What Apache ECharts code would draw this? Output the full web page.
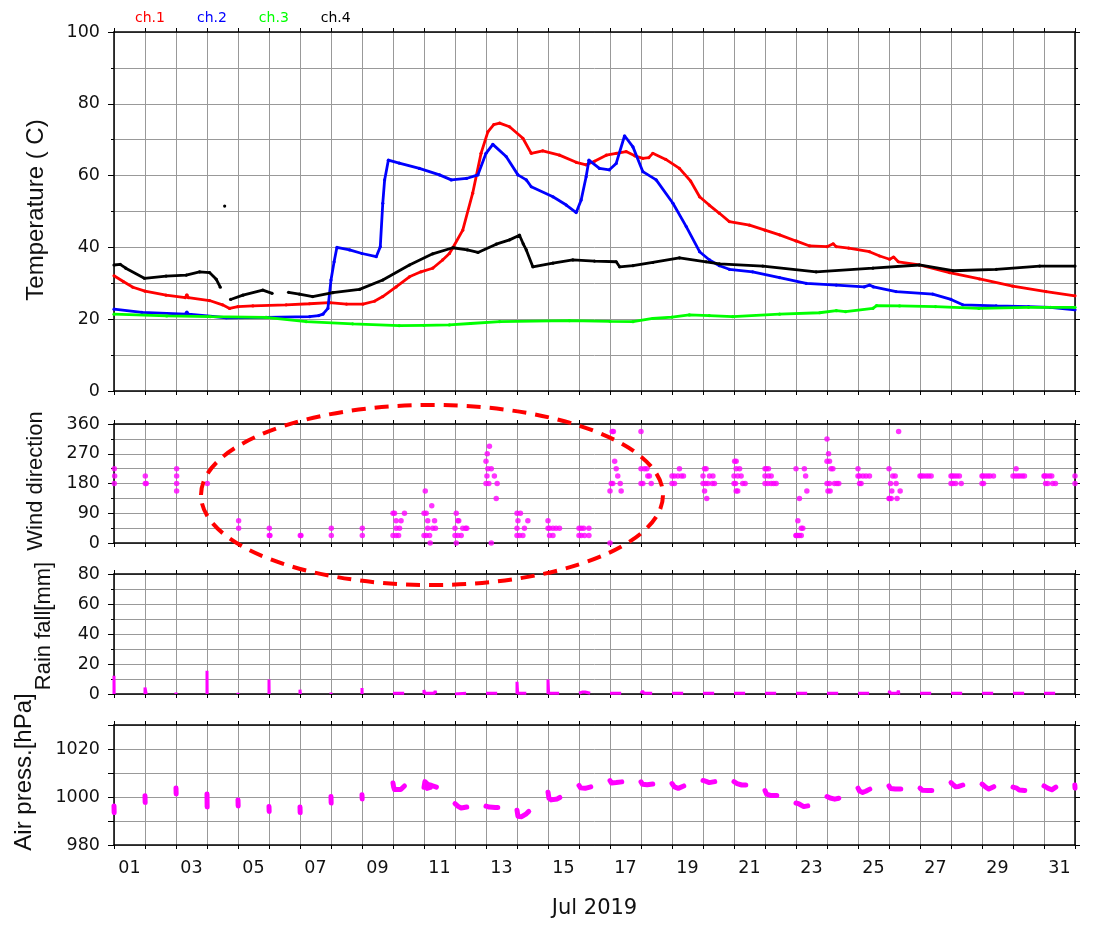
<!DOCTYPE html>
<html><head><meta charset="utf-8">
<script src="https://cdn.jsdelivr.net/npm/echarts@6/dist/echarts.min.js"></script>
<style>html,body{margin:0;padding:0;background:#fff}#c{width:1105px;height:927px}</style>
</head><body><div id="c"></div>
<script>
// ---------- data (x = day of July 2019, fractional) ----------
const seriesNames = ['ch.1', 'ch.2', 'ch.3', 'ch.4'];
const seriesColors = ['#ff0000', '#0000ff', '#00ff00', '#000000'];
const panelTitles = ['Temperature ( C)', 'Wind direction', 'Rain fall[mm]', 'Air press.[hPa]'];
const monthLabel = 'Jul 2019';

const ch1 = [[1.0,32.1],[1.3,30.5],[1.61,28.9],[2.0,27.8],[2.68,26.7],[3.3,26.0],[3.35,26.8],[3.4,26.0],[4.08,25.2],[4.5,24.0],[4.73,23.0],[5.0,23.5],[5.48,23.7],[6.55,24.0],[7.3,24.3],[7.95,24.6],[8.5,24.2],[9.03,24.2],[9.4,25.0],[9.67,26.3],[10.1,29.0],[10.53,31.8],[10.9,33.2],[11.28,34.2],[11.6,36.5],[11.82,38.3],[11.93,39.9],[12.25,44.8],[12.57,55.1],[12.84,66.2],[13.06,72.2],[13.25,74.2],[13.44,74.6],[13.76,73.6],[14.19,70.4],[14.46,66.2],[14.83,66.9],[15.37,65.7],[15.91,63.7],[16.23,63.0],[16.5,64.0],[16.88,65.7],[17.2,66.2],[17.52,66.7],[17.8,65.5],[18.06,64.8],[18.25,65.0],[18.38,66.2],[18.8,64.5],[19.24,62.0],[19.6,58.5],[19.89,54.1],[20.2,51.8],[20.53,49.5],[20.85,47.2],[21.5,46.2],[22.0,44.8],[22.47,43.5],[23.0,41.8],[23.44,40.4],[24.0,40.2],[24.2,41.0],[24.3,40.2],[24.7,39.8],[25.37,38.8],[25.7,37.6],[26.02,36.7],[26.15,37.3],[26.3,36.0],[26.98,35.1],[27.95,33.0],[28.92,31.2],[29.99,29.2],[31.07,27.7],[32.0,26.5]];

const ch2 = [[1.0,22.8],[1.9,21.9],[3.3,21.4],[3.35,22.0],[3.4,21.4],[4.62,20.4],[5.91,20.5],[7.31,20.7],[7.6,21.0],[7.74,21.4],[7.9,23.0],[8.0,30.9],[8.1,36.0],[8.19,40.0],[8.6,39.3],[9.0,38.3],[9.46,37.4],[9.59,40.2],[9.67,52.3],[9.73,58.8],[9.85,64.3],[10.2,63.5],[10.85,62.0],[11.5,60.2],[11.88,58.8],[12.37,59.2],[12.74,60.2],[13.0,66.2],[13.22,68.7],[13.65,65.3],[14.03,60.2],[14.3,58.8],[14.46,56.9],[15.16,54.1],[15.59,51.8],[15.91,49.7],[16.07,53.2],[16.23,59.7],[16.32,64.3],[16.66,62.0],[16.98,61.6],[17.2,63.4],[17.47,71.1],[17.74,68.0],[18.06,61.1],[18.49,58.8],[19.03,52.3],[19.46,45.8],[19.89,38.8],[20.21,36.5],[20.53,34.9],[20.85,33.9],[21.6,33.2],[22.47,31.6],[23.33,30.0],[24.3,29.5],[25.2,29.0],[25.37,29.5],[25.5,29.0],[26.23,27.7],[27.41,27.0],[28.0,25.5],[28.38,24.0],[29.46,23.7],[30.5,23.5],[31.2,23.3],[32.0,22.6]];

const ch3 = [[1.0,21.4],[2.7,20.9],[4.1,20.7],[5.9,20.5],[7.2,19.3],[8.7,18.7],[10.2,18.2],[11.0,18.3],[11.82,18.4],[12.5,18.8],[13.44,19.3],[15.69,19.6],[17.0,19.4],[17.74,19.3],[18.38,20.2],[19.0,20.6],[19.56,21.2],[20.2,21.0],[20.96,20.7],[22.47,21.4],[23.76,21.8],[24.3,22.4],[24.6,22.1],[25.48,23.0],[25.6,23.8],[26.34,23.7],[27.5,23.5],[28.9,23.0],[30.5,23.3],[32.0,23.3]];

const ch4 = [[1.0,35.1],[1.2,35.3],[1.38,34.2],[1.98,31.4],[2.68,32.0],[3.33,32.3],[3.76,33.2],[4.08,33.0],[4.3,31.1],[4.43,28.9],[4.5,null],[4.57,51.5],[4.65,null],[4.76,25.5],[5.16,26.7],[5.8,28.1],[6.1,27.2],[6.3,null],[6.63,27.5],[6.98,27.0],[7.41,26.3],[8.06,27.4],[8.92,28.3],[9.67,30.9],[10.53,35.1],[11.28,38.2],[11.93,39.9],[12.4,39.3],[12.74,38.6],[13.33,40.9],[13.76,42.1],[14.08,43.4],[14.2,41.0],[14.3,39.3],[14.51,34.6],[15.16,35.6],[15.8,36.5],[16.5,36.2],[17.2,36.0],[17.31,34.6],[17.74,34.9],[18.38,35.8],[19.24,37.1],[20.1,36.0],[20.53,35.4],[21.93,34.8],[23.65,33.2],[25.48,34.2],[26.98,35.1],[28.06,33.5],[29.46,33.9],[30.86,34.8],[32.0,34.8]];

const wind = [
[1.01,225],[1.02,202.5],[1.01,180],
[2.01,202.5],[2.01,180],[2.04,180],
[3.02,225],[3.02,202.5],[3.02,180],[3.02,157.5],
[4.01,180],
[5.02,67.5],[5.02,45],
[6.01,45],[6.01,22.5],[6.03,22.5],
[7.01,22.5],[7.03,22.5],
[8.01,45],[8.01,22.5],
[9.01,45],[9.01,22.5],
[10.0,90],[10.05,90],[10.37,90],[10.1,67.5],[10.26,67.5],[10.1,45],[10.21,45],[10.0,22.5],[10.1,22.5],[10.18,22.5],
[11.04,157.5],[11.0,90],[11.07,90],[11.25,112.5],[11.12,67.5],[11.34,67.5],[11.12,45],[11.28,45],[11.37,45],[11.0,22.5],[11.07,22.5],[11.18,22.5],[11.2,0],
[12.04,90],[12.09,67.5],[12.12,67.5],[12.0,45],[12.25,45],[12.34,45],[12.38,45],[12.0,22.5],[12.09,22.5],[12.2,22.5],[12.04,0],
[13.11,292.5],[13.04,270],[13.0,247.5],[13.06,225],[13.17,225],[13.03,202.5],[13.27,202.5],[13.0,180],[13.09,180],[13.36,180],[13.33,135],[13.17,0],
[14.0,90],[14.11,90],[14.03,67.5],[14.35,67.5],[14.0,45],[14.24,45],[14.0,22.5],[14.08,22.5],[14.19,22.5],
[15.0,67.5],[15.0,45],[15.05,45],[15.16,45],[15.26,45],[15.37,45],[15.05,22.5],[15.16,22.5],
[16.0,45],[16.07,45],[16.15,45],[16.32,45],[16.0,22.5],[16.07,22.5],[16.18,22.5],[16.32,22.5],
[17.07,337.5],[17.11,337.5],[17.15,247.5],[17.2,225],[17.25,202.5],[17.04,180],[17.09,180],[17.33,180],[17.0,157.5],[17.36,157.5],[17.0,0],
[18.0,337.5],[18.0,225],[18.11,225],[18.19,225],[18.22,202.5],[18.27,202.5],[18.0,180],[18.06,180],[18.33,180],
[19.24,225],[19.0,202.5],[19.08,202.5],[19.19,202.5],[19.3,202.5],[19.37,202.5],[19.0,180],[19.08,180],
[20.05,225],[20.1,225],[20.0,202.5],[20.21,202.5],[20.32,202.5],[20.0,180],[20.08,180],[20.16,180],[20.3,180],[20.37,180],[20.05,157.5],[20.12,135],
[21.02,247.5],[21.07,247.5],[21.07,225],[21.18,225],[21.0,202.5],[21.12,202.5],[21.23,202.5],[21.0,180],[21.05,180],[21.28,180],[21.36,180],[21.07,157.5],[21.12,157.5],
[22.0,225],[22.04,225],[22.11,225],[22.0,202.5],[22.11,202.5],[22.2,202.5],[22.0,180],[22.09,180],[22.2,180],[22.28,180],[22.36,180],
[23.0,225],[23.27,225],[23.31,202.5],[23.35,157.5],[23.11,135],[23.06,67.5],[23.17,45],[23.22,45],[23.0,22.5],[23.01,22.5],[23.06,22.5],[23.11,22.5],[23.17,22.5],
[24.0,315],[24.05,270],[24.0,247.5],[24.08,247.5],[24.13,225],[24.19,225],[24.0,180],[24.08,180],[24.24,180],[24.32,180],[24.38,180],[24.03,157.5],[24.1,157.5],
[25.0,225],[25.0,202.5],[25.05,202.5],[25.16,202.5],[25.26,202.5],[25.37,202.5],[25.05,180],[25.1,180],
[26.31,337.5],[26.0,225],[26.12,202.5],[26.2,202.5],[26.05,180],[26.23,180],[26.09,157.5],[26.36,157.5],[26.0,135],[26.02,135],[26.07,135],[26.26,135],
[27.0,202.5],[27.04,202.5],[27.11,202.5],[27.2,202.5],[27.28,202.5],[27.36,202.5],
[28.0,202.5],[28.04,202.5],[28.11,202.5],[28.19,202.5],[28.27,202.5],[28.0,180],[28.06,180],[28.15,180],[28.33,180],
[29.0,202.5],[29.03,202.5],[29.11,202.5],[29.19,202.5],[29.26,202.5],[29.37,202.5],[29.0,180],[29.05,180],
[30.1,225],[30.0,202.5],[30.07,202.5],[30.15,202.5],[30.22,202.5],[30.3,202.5],[30.37,202.5],
[31.0,202.5],[31.02,202.5],[31.09,202.5],[31.18,202.5],[31.25,202.5],[31.05,180],[31.12,180],[31.28,180],[31.37,180],
[32.0,202.5],[32.0,180]
];

const rain = [
[1.0,0],[1.0,12.2],[1.005,0],[1.01,null],
[2.0,0],[2.0,4.3],[2.03,3.8],[2.04,0],[2.05,null],
[3.0,0],[3.0,1.0],[3.005,0],[3.01,null],
[4.0,0],[4.0,15.5],[4.005,0],[4.01,null],
[5.0,0],[5.0,0.8],[5.005,0],[5.01,null],
[6.0,0],[6.0,9.7],[6.005,0],[6.01,null],
[7.0,0],[7.0,2.9],[7.01,0],[7.02,null],
[8.0,0],[8.0,1.0],[8.005,0],[8.01,null],
[9.0,0],[9.0,4.0],[9.005,0],[9.01,null],
[10.0,0.5],[10.36,0.5],[10.4,null],
[11.0,0],[11.0,2.7],[11.02,0.5],[11.34,0.5],[11.36,2.0],[11.38,0.5],[11.4,null],
[12.0,0],[12.0,1.1],[12.02,0.5],[12.36,0.5],[12.4,null],
[13.0,0.5],[13.2,0.5],[13.21,1.1],[13.22,0.5],[13.36,0.5],[13.4,null],
[14.0,0],[14.0,8.1],[14.02,0.5],[14.3,0.5],[14.4,null],
[15.0,0],[15.0,9.7],[15.02,0.5],[15.2,0.5],[15.21,1.3],[15.22,0.5],[15.36,0.5],[15.4,null],
[16.0,0.5],[16.1,1.3],[16.2,1.3],[16.36,0.5],[16.4,null],
[17.0,0.5],[17.36,0.5],[17.4,null],
[18.0,0.5],[18.05,2.0],[18.1,0.5],[18.36,0.5],[18.4,null],
[19.0,0.5],[19.36,0.5],[19.4,null],
[20.0,0.5],[20.36,0.5],[20.4,null],
[21.0,0.5],[21.36,0.5],[21.4,null],
[22.0,0.5],[22.36,0.5],[22.4,null],
[23.0,0.5],[23.36,0.5],[23.4,null],
[24.0,0.5],[24.36,0.5],[24.4,null],
[25.0,0.5],[25.36,0.5],[25.4,null],
[26.0,0.5],[26.02,2.0],[26.04,0.5],[26.28,0.5],[26.3,2.2],[26.32,0.5],[26.36,0.5],[26.4,null],
[27.0,0.5],[27.36,0.5],[27.4,null],
[28.0,0.5],[28.36,0.5],[28.4,null],
[29.0,0.5],[29.36,0.5],[29.4,null],
[30.0,0.5],[30.36,0.5],[30.4,null],
[31.0,0.5],[31.36,0.5],[31.4,null],
[32.0,0.5]
];

const press = [
[1.0,996.3],[1.005,993.5],[1.1,null],
[2.0,1000.5],[2.005,997.7],[2.1,null],
[3.0,1003.7],[3.005,1001.3],[3.1,null],
[4.0,1001.2],[4.005,995.8],[4.1,null],
[5.0,998.8],[5.005,996.3],[5.1,null],
[6.0,996.0],[6.005,994.0],[6.1,null],
[7.0,995.8],[7.005,993.5],[7.1,null],
[8.0,1000.2],[8.005,997.5],[8.1,null],
[9.0,1000.9],[9.005,999.2],[9.1,null],
[10.0,1005.8],[10.06,1005.2],[10.02,1004.2],[10.05,1003.1],[10.25,1003.1],[10.37,1004.6],[10.5,null],
[11.0,1004.0],[11.03,1006.4],[11.12,1005.3],[11.25,1004.8],[11.4,1004.1],[11.45,null],
[11.06,1004.8],[11.1,1003.6],[11.2,1004.0],[11.3,null],
[12.0,997.2],[12.1,996.1],[12.2,995.4],[12.38,995.8],[12.5,null],
[13.0,996.2],[13.1,995.8],[13.3,995.6],[13.38,995.6],[13.5,null],
[14.0,994.5],[14.03,992.0],[14.15,991.8],[14.3,993.0],[14.38,994.0],[14.5,null],
[15.0,1002.0],[15.03,999.5],[15.1,998.8],[15.3,999.2],[15.38,999.8],[15.5,null],
[16.0,1004.8],[16.05,1003.8],[16.2,1003.6],[16.38,1004.2],[16.5,null],
[17.0,1006.8],[17.05,1005.8],[17.2,1006.0],[17.38,1006.3],[17.5,null],
[18.0,1006.3],[18.05,1005.3],[18.2,1005.1],[18.38,1005.4],[18.5,null],
[19.0,1005.6],[19.08,1004.2],[19.2,1003.6],[19.38,1004.6],[19.5,null],
[20.0,1006.9],[20.1,1006.5],[20.2,1006.0],[20.38,1006.4],[20.5,null],
[21.0,1006.4],[21.1,1005.6],[21.25,1005.0],[21.38,1005.0],[21.5,null],
[22.0,1002.7],[22.05,1001.2],[22.2,1000.6],[22.38,1000.6],[22.5,null],
[23.0,997.5],[23.1,997.1],[23.25,996.0],[23.38,996.3],[23.5,null],
[24.0,1000.2],[24.1,999.6],[24.25,999.1],[24.38,999.5],[24.5,null],
[25.0,1003.7],[25.05,1002.5],[25.15,1001.9],[25.25,1002.4],[25.38,1003.3],[25.5,null],
[26.0,1004.6],[26.05,1003.5],[26.2,1003.3],[26.38,1003.3],[26.5,null],
[27.0,1003.7],[27.08,1002.8],[27.25,1002.7],[27.38,1002.7],[27.5,null],
[28.0,1006.0],[28.08,1005.0],[28.15,1004.3],[28.25,1004.4],[28.38,1005.0],[28.5,null],
[29.0,1005.4],[29.12,1004.1],[29.22,1003.3],[29.38,1004.3],[29.5,null],
[30.0,1004.1],[30.12,1003.7],[30.2,1002.9],[30.38,1002.7],[30.5,null],
[31.0,1004.6],[31.12,1003.7],[31.25,1003.0],[31.38,1004.1],[31.5,null],
[31.995,1005.0],[32.0,1003.7]
];

// ---------- layout ----------
const FONT = 'DejaVu Sans';
const TITLE_FONT = 'Liberation Sans';
const GRIDC = '#999999';
const MAG = '#ff00ff';
const L = 114, R = 30;
const panels = [
  {top: 32,  height: 359, min: 0,   max: 100,  interval: 20, minor: true},
  {top: 424, height: 119, min: 0,   max: 360,  interval: 90, minor: true},
  {top: 574, height: 120, min: 0,   max: 80,   interval: 20, minor: true},
  {top: 725, height: 120, min: 980, max: 1030, interval: 10, minor: false}
];
const titlePos = [[36, 210], [36, 481], [44, 626], [24, 772]];
const titleSize = [24, 22, 22, 24];

const grids = [], xAxes = [], yAxes = [];
const axisLine = {show: true, onZero: false, lineStyle: {color: '#000', width: 1.5}};
panels.forEach((p, i) => {
  grids.push({left: L, right: R, top: p.top, height: p.height, containLabel: false, outerBoundsMode: 'none', show: false});
  const last = i === panels.length - 1;
  xAxes.push({
    type: 'value', gridIndex: i, position: 'bottom', min: 1, max: 32, interval: 1,
    axisLine: axisLine, axisTick: {show: true, inside: false, length: 4, lineStyle: {color: '#000', width: 1}},
    splitLine: {show: true, lineStyle: {color: GRIDC, width: 1}},
    axisLabel: last ? {
      show: true, fontFamily: FONT, fontSize: 17.5, color: '#111', margin: 14, padding: [0, 0, 0, 31],
      formatter: v => (v % 2 === 1 && v < 32) ? String(v).padStart(2, '0') : ''
    } : {show: false},
    name: last ? monthLabel : '', nameLocation: 'middle', nameGap: 53,
    nameTextStyle: {fontFamily: FONT, fontSize: 21, color: '#111'}
  });
  xAxes.push({
    type: 'value', gridIndex: i, position: 'top', min: 1, max: 32, interval: 1,
    axisLine: axisLine, axisTick: {show: true, inside: false, length: 4, lineStyle: {color: '#000', width: 1}},
    splitLine: {show: false}, axisLabel: {show: false}
  });
  yAxes.push({
    type: 'value', gridIndex: i, position: 'left', min: p.min, max: p.max, interval: p.interval,
    axisLine: axisLine, axisTick: {show: true, inside: false, length: 6, lineStyle: {color: '#000', width: 1}},
    minorTick: {show: p.minor, splitNumber: 2, length: 3, lineStyle: {color: '#000', width: 1}},
    splitLine: {show: true, lineStyle: {color: GRIDC, width: 1}},
    minorSplitLine: {show: p.minor, lineStyle: {color: GRIDC, width: 1}},
    axisLabel: {show: true, fontFamily: FONT, fontSize: 17.5, color: '#111', margin: 14,
      formatter: v => (v % 20 === 0 || (i === 1 && v % 90 === 0)) ? String(v) : ''}
  });
  yAxes.push({
    type: 'value', gridIndex: i, position: 'right', min: p.min, max: p.max, interval: p.interval,
    axisLine: axisLine, axisTick: {show: true, inside: false, length: 5, lineStyle: {color: '#000', width: 1}},
    minorTick: {show: p.minor, splitNumber: 2, length: 3, lineStyle: {color: '#000', width: 1}},
    splitLine: {show: false}, axisLabel: {show: false}
  });
});

const tempData = [ch1, ch2, ch3, ch4];
const series = tempData.map((d, k) => ({
  name: seriesNames[k], type: 'line', xAxisIndex: 0, yAxisIndex: 0, data: d,
  showSymbol: true, symbol: 'circle', symbolSize: 3.2, connectNulls: false,
  itemStyle: {color: seriesColors[k]}, lineStyle: {color: seriesColors[k], width: 2.8},
  emphasis: {disabled: true}, z: 3 + k
}));
series.push({
  name: 'Wind direction', type: 'scatter', xAxisIndex: 2, yAxisIndex: 2, data: wind,
  symbol: 'circle', symbolSize: 5.5, itemStyle: {color: MAG}, emphasis: {disabled: true}
});
series.push({
  name: 'Rain fall', type: 'line', xAxisIndex: 4, yAxisIndex: 4, data: rain,
  showSymbol: false, connectNulls: false, lineStyle: {color: MAG, width: 3}, itemStyle: {color: MAG},
  emphasis: {disabled: true}
});
series.push({
  name: 'Air press.', type: 'line', xAxisIndex: 6, yAxisIndex: 6, data: press,
  showSymbol: false, connectNulls: false, lineStyle: {color: MAG, width: 5, cap: 'round', join: 'round'},
  itemStyle: {color: MAG}, emphasis: {disabled: true}
});

const graphics = panelTitles.map((t, i) => ({
  type: 'text', x: titlePos[i][0], y: titlePos[i][1], rotation: Math.PI / 2, z: 10,
  style: {text: t, fill: '#111', fontFamily: TITLE_FONT, fontSize: titleSize[i],
    textAlign: 'center', textVerticalAlign: 'middle', align: 'center', verticalAlign: 'middle'}
}));
graphics.push({
  type: 'ellipse', z: 100,
  shape: {cx: 432, cy: 495, rx: 231, ry: 90},
  style: {fill: 'none', stroke: '#ff0000', lineWidth: 4, lineDash: [14, 9]}
});

const chart = echarts.init(document.getElementById('c'), null, {renderer: 'canvas'});
chart.setOption({
  animation: false,
  backgroundColor: '#fff',
  legend: {
    show: true, left: 125, top: 6, icon: 'none', itemWidth: 0, itemHeight: 14, itemGap: 27,
    selectedMode: false, textStyle: {fontFamily: FONT, fontSize: 14},
    data: seriesNames.map((n, k) => ({name: n, textStyle: {color: seriesColors[k]}}))
  },
  grid: grids, xAxis: xAxes, yAxis: yAxes, series: series, graphic: graphics
});
</script></body></html>
